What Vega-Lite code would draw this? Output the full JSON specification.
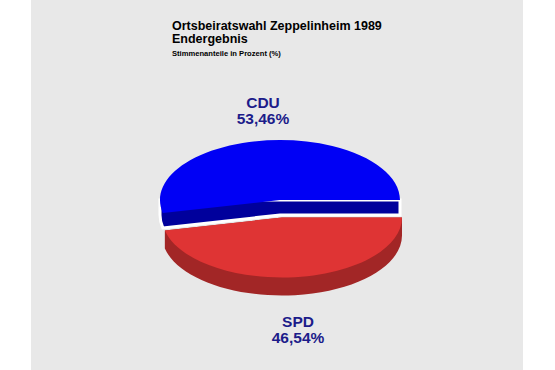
{
  "$schema": "https://vega.github.io/schema/vega-lite/v6.json",
  "width": 555,
  "height": 370,
  "autosize": {"type": "fit", "contains": "padding"},
  "padding": {"left": 31, "right": 32, "top": 0, "bottom": 0},
  "background": "white",
  "view": {"fill": "#e8e8e8", "stroke": null},
  "config": {
    "font": "Liberation Sans",
    "locale": {"number": {"decimal": ",", "thousands": ".", "grouping": [3], "currency": ["", " €"]}}
  },
  "title": {
    "text": ["Ortsbeiratswahl Zeppelinheim 1989", "Endergebnis"],
    "subtitle": "Stimmenanteile in Prozent (%)",
    "anchor": "start",
    "frame": "group",
    "dx": 141,
    "offset": -58,
    "font": "Liberation Sans",
    "fontSize": 12.5,
    "fontWeight": "bold",
    "color": "#000000",
    "lineHeight": 13,
    "subtitleFont": "Liberation Sans",
    "subtitleFontSize": 7.6,
    "subtitleFontWeight": "bold",
    "subtitleColor": "#000000",
    "subtitlePadding": 5
  },
  "data": {"values": [
    {"party": "CDU", "share": 0.5346},
    {"party": "SPD", "share": 0.4654}
  ]},
  "layer": [
    {
      "mark": {"type": "point", "filled": true, "opacity": 1, "stroke": "white"},
      "encoding": {
        "shape": {"field": "party", "type": "nominal", "legend": null,
          "scale": {"domain": ["CDU", "SPD"], "range": [
            "M 123 15 L 123 30 L 3 30 L -114.16 42.98 A 120 60 0 0 1 -117 30 L -117 15 L 3 15 Z",
            "M 125 32.5 L 125 50.5 A 120 60 0 0 1 -112.16 63.48 L -112.16 45.48 L 5 32.5 Z"
          ]}},
        "color": {"field": "party", "type": "nominal", "legend": null,
          "scale": {"domain": ["CDU", "SPD"], "range": ["#00009c", "#a22626"]}},
        "strokeWidth": {"condition": {"test": "datum.party === 'CDU'", "value": 3}, "value": 0},
        "size": {"value": 4}
      }
    },
    {
      "mark": {"type": "point", "filled": true, "opacity": 1, "strokeWidth": 0},
      "encoding": {
        "shape": {"field": "party", "type": "nominal", "legend": null,
          "scale": {"domain": ["CDU", "SPD"], "range": [
            "M 3 15 L 123 15 A 120 60 0 1 0 -114.16 27.98 Z",
            "M 5 32.5 L 125 32.5 A 120 60 0 0 1 -112.16 45.48 Z"
          ]}},
        "color": {"field": "party", "type": "nominal", "legend": null,
          "scale": {"domain": ["CDU", "SPD"], "range": ["#0000f5", "#df3434"]}},
        "size": {"value": 4}
      }
    },
    {
      "mark": {"type": "text", "radius": 111, "dx": 3.5, "dy": 27.3, "font": "Liberation Sans", "fontSize": 15.5, "fontWeight": "bold", "color": "#1c1c8a", "baseline": "middle", "align": "center"},
      "encoding": {
        "theta": {"field": "share", "type": "quantitative", "stack": true, "scale": {"range": [-1.838, 4.4452]}},
        "order": {"field": "share", "type": "quantitative", "sort": "descending"},
        "text": {"field": "party", "type": "nominal"}
      }
    },
    {
      "mark": {"type": "text", "radius": 111, "dx": 3.5, "dy": 43.5, "font": "Liberation Sans", "fontSize": 15.5, "fontWeight": "bold", "color": "#1c1c8a", "baseline": "middle", "align": "center"},
      "encoding": {
        "theta": {"field": "share", "type": "quantitative", "stack": true, "scale": {"range": [-1.838, 4.4452]}},
        "order": {"field": "share", "type": "quantitative", "sort": "descending"},
        "text": {"field": "share", "type": "quantitative", "format": ".2%"}
      }
    }
  ],
  "resolve": {"scale": {"shape": "independent", "color": "independent"}}
}
